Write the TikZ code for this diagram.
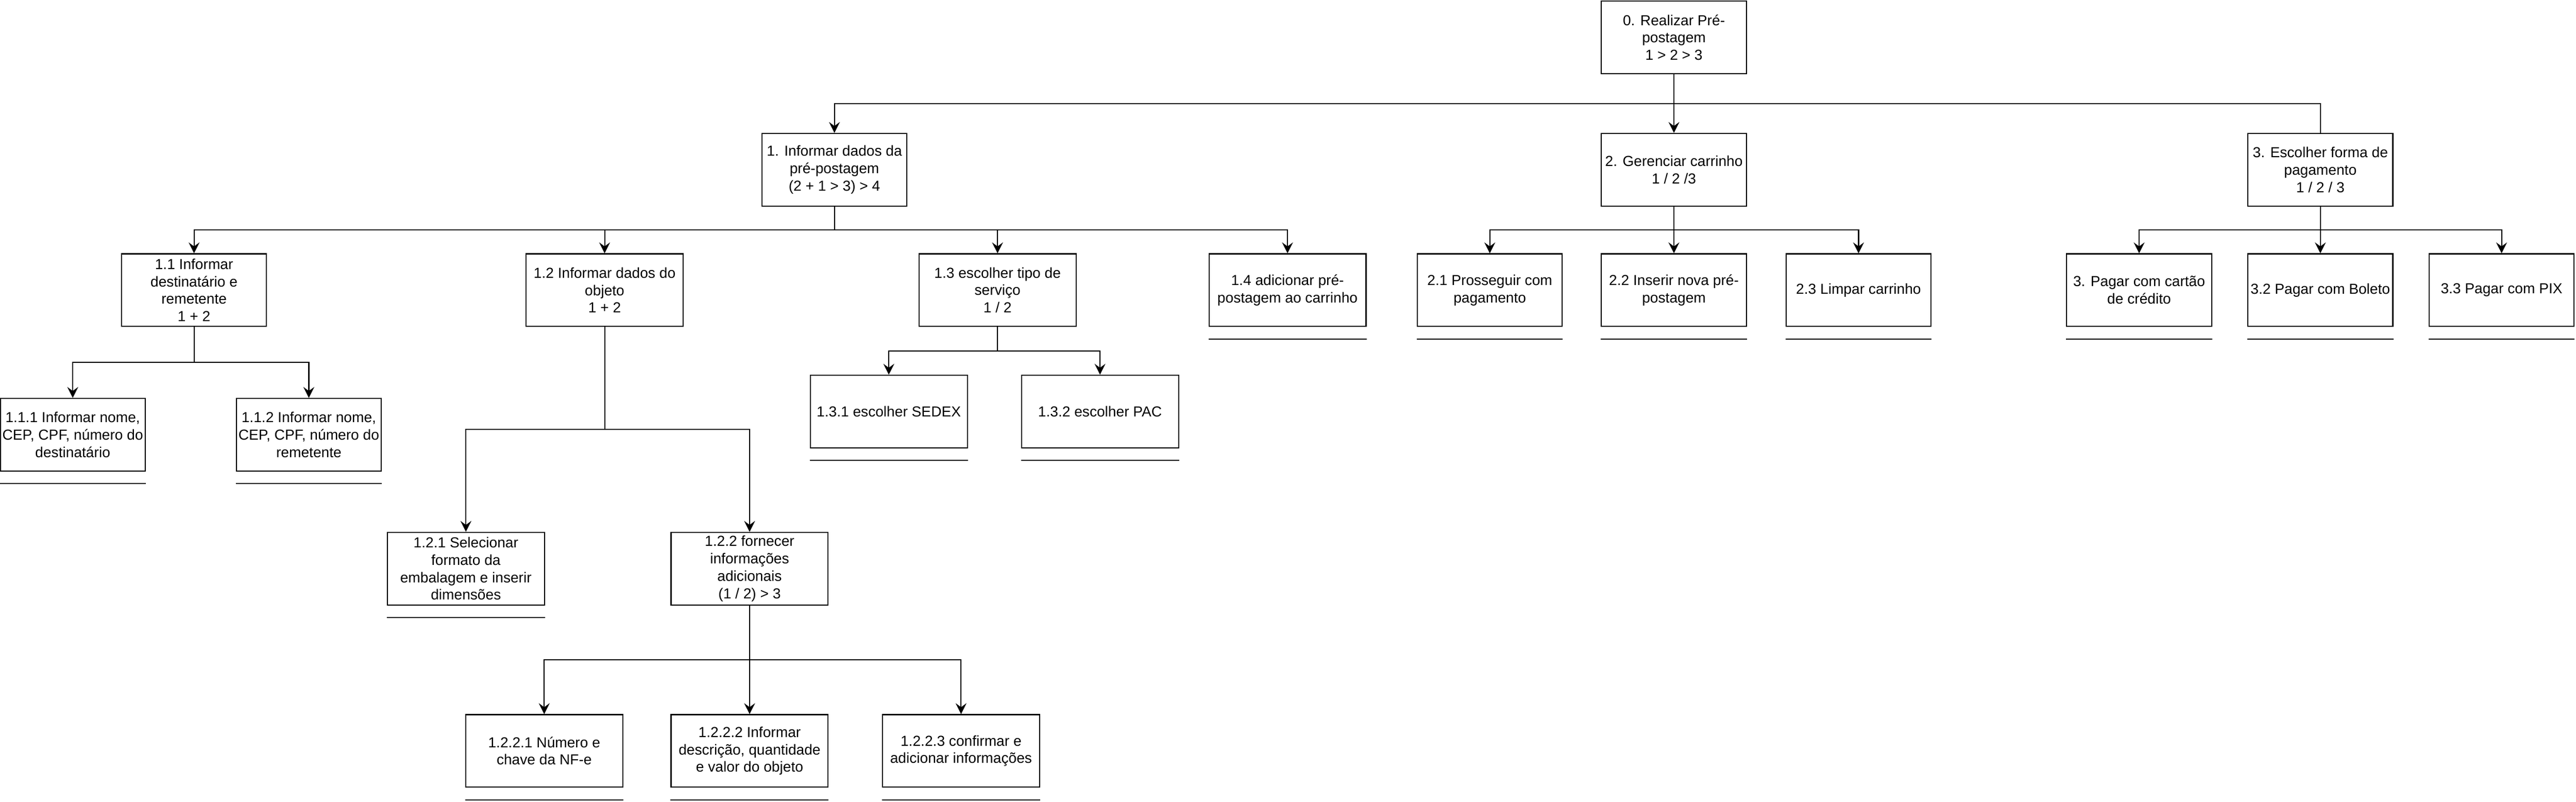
\documentclass[tikz,border=0pt]{standalone}
\usepackage{fontspec}
\setmainfont{Liberation Sans}
\usetikzlibrary{arrows.meta,calc}
\begin{document}
\begin{tikzpicture}[x=1pt,y=-1pt,
  box/.style={draw=black,line width=0.9pt,fill=white,minimum height=60pt,inner sep=0pt,align=center,font=\fontsize{12}{14.4}\selectfont},
  nar/.style={box,minimum width=120pt},
  wid/.style={box,minimum width=130pt},
  arr/.style={draw=black,line width=0.9pt,-{Stealth[length=9pt,width=9pt,inset=3.3pt]}},
  lnk/.style={draw=black,line width=0.9pt},
  tree/.style={to path={-- ($(\tikztostart)!.5!(\tikztostart |- \tikztotarget)$) -| (\tikztotarget)}},
  ul/.style={draw=black,line width=0.9pt}]
\useasboundingbox[fill=white] (0,0) rectangle (2132,663.2);

% level 0
\node[nar] (n0) at (1385.4,31) {0. Realizar Pré-\\postagem\\1 > 2 > 3};
% level 1
\node[nar] (n1) at (690.6,140.4) {1. Informar dados da\\pré-postagem\\(2 + 1 > 3) > 4};
\node[nar] (n2) at (1385.4,140.4) {2. Gerenciar carrinho\\1 / 2 /3};
\node[nar] (n3) at (1920.4,140.4) {3. Escolher forma de\\pagamento\\1 / 2 / 3};
% level 2
\node[nar] (n11) at (160.6,240) {1.1 Informar\\destinatário e\\remetente\\1 + 2};
\node[wid] (n12) at (500.4,240) {1.2 Informar dados do\\objeto\\1 + 2};
\node[wid] (n13) at (825.6,240) {1.3 escolher tipo de\\serviço\\1 / 2};
\node[wid] (n14) at (1065.6,240) {1.4 adicionar pré-\\postagem ao carrinho};
\node[nar] (n21) at (1233,240) {2.1 Prosseguir com\\pagamento};
\node[nar] (n22) at (1385.4,240) {2.2 Inserir nova pré-\\postagem};
\node[nar] (n23) at (1538.2,240) {2.3 Limpar carrinho};
\node[nar] (n31) at (1770.4,240) {3. Pagar com cartão\\de crédito};
\node[nar] (n32) at (1920.4,240) {3.2 Pagar com Boleto};
\node[nar] (n33) at (2070.4,240) {3.3 Pagar com PIX};
% level 3
\node[nar] (n111) at (60.2,359.6) {1.1.1 Informar nome,\\CEP, CPF, número do\\destinatário};
\node[nar] (n112) at (255.6,359.6) {1.1.2 Informar nome,\\CEP, CPF, número do\\remetente};
\node[wid] (n131) at (735.6,340.4) {1.3.1 escolher SEDEX};
\node[wid] (n132) at (910.4,340.4) {1.3.2 escolher PAC};
\node[wid] (n121) at (385.6,470.4) {1.2.1 Selecionar\\formato da\\embalagem e inserir\\dimensões};
\node[wid] (n122) at (620.4,470.4) {1.2.2 fornecer\\informações\\adicionais\\(1 / 2) > 3};
% level 4
\node[wid] (n1221) at (450.4,621.2) {1.2.2.1 Número e\\chave da NF-e};
\node[wid] (n1222) at (620.4,621.2) {1.2.2.2 Informar\\descrição, quantidade\\e valor do objeto};
\node[wid] (n1223) at (795.4,621.2) {1.2.2.3 confirmar e\\adicionar informações};

% underlines under leaves
\foreach \n in {n14,n21,n22,n23,n31,n32,n33,n111,n112,n131,n132,n121,n1221,n1222,n1223}{
  \draw[ul] ([yshift=-10pt]\n.south west) -- ([yshift=-10pt]\n.south east);
}

% connectors
\draw[arr] (n0.south) to[tree] (n1.north);
\draw[arr] (n0.south) to[tree] (n2.north);
\draw[lnk] (n0.south) to[tree] (n3.north);

\foreach \c in {n11,n12,n13,n14}{\draw[arr] (n1.south) to[tree] (\c.north);}
\foreach \c in {n21,n22,n23}{\draw[arr] (n2.south) to[tree] (\c.north);}
\foreach \c in {n31,n32,n33}{\draw[arr] (n3.south) to[tree] (\c.north);}
\foreach \c in {n111,n112}{\draw[arr] (n11.south) to[tree] (\c.north);}
\foreach \c in {n121,n122}{\draw[arr] (n12.south) to[tree] (\c.north);}
\foreach \c in {n131,n132}{\draw[arr] (n13.south) to[tree] (\c.north);}
\foreach \c in {n1221,n1222,n1223}{\draw[arr] (n122.south) to[tree] (\c.north);}
\end{tikzpicture}
\end{document}
